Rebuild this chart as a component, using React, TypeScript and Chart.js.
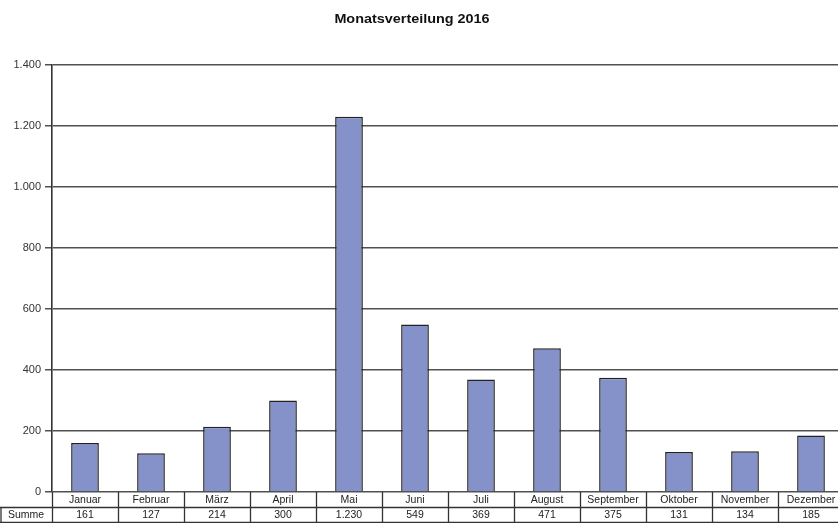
import React, { useEffect, useRef } from "react";
import { Chart, registerables } from "chart.js";

Chart.register(...registerables);

const TITLE = "Monatsverteilung 2016";
const MONTHS = ["Januar", "Februar", "März", "April", "Mai", "Juni", "Juli", "August", "September", "Oktober", "November", "Dezember"];
const VALUES = [161, 127, 214, 300, 1230, 549, 369, 471, 375, 131, 134, 185];
const ROW_LABEL = "Summe";
const Y_TICKS = [0, 200, 400, 600, 800, 1000, 1200, 1400];

const FONT = "'Liberation Sans', Arial, sans-serif";

const fmt = (v: number) => String(v).replace(/\B(?=(\d{3})+(?!\d))/g, ".");

const titlePlugin = {
  id: "stretchedTitle",
  afterDraw(chart: any) {
    const ctx = chart.ctx;
    ctx.save();
    ctx.fillStyle = "#111";
    ctx.font = `bold 12px ${FONT}`;
    ctx.textAlign = "center";
    ctx.textBaseline = "alphabetic";
    ctx.translate(412, 22.5);
    ctx.scale(1.2, 1);
    ctx.fillText(TITLE, 0, 0);
    ctx.restore();
  },
};

const tablePlugin = {
  id: "dataTable",
  afterDraw(chart: any) {
    const ctx = chart.ctx;
    const xs = chart.scales.x;
    const area = chart.chartArea;
    const n = MONTHS.length;
    const w = (area.right - area.left) / n;
    const top = area.bottom;
    const mid = top + 15;
    const bot = top + 30;
    ctx.save();
    ctx.strokeStyle = "#333";
    ctx.lineWidth = 1.3;
    ctx.beginPath();
    ctx.moveTo(0, mid + 0.5);
    ctx.lineTo(chart.width, mid + 0.5);
    ctx.moveTo(0, bot + 0.5);
    ctx.lineTo(chart.width, bot + 0.5);
    ctx.moveTo(1, mid);
    ctx.lineTo(1, bot + 1);
    for (let i = 0; i <= n; i++) {
      const x = Math.round(area.left + i * w) + 0.5;
      ctx.moveTo(x, top);
      ctx.lineTo(x, bot + 1);
    }
    ctx.stroke();
    ctx.fillStyle = "#222";
    ctx.font = `10.5px ${FONT}`;
    ctx.textAlign = "center";
    ctx.textBaseline = "middle";
    MONTHS.forEach((m, i) => {
      const cx = xs.getPixelForValue(i);
      ctx.fillText(m, cx, top + 8);
      ctx.fillText(fmt(VALUES[i]), cx, mid + 8);
    });
    ctx.fillText(ROW_LABEL, area.left / 2, mid + 8);
    ctx.restore();
  },
};

export default function App() {
  const ref = useRef<HTMLCanvasElement>(null);
  useEffect(() => {
    const chart = new Chart(ref.current!, {
      type: "bar",
      data: {
        labels: MONTHS,
        datasets: [
          {
            data: VALUES,
            backgroundColor: "#8591C9",
            borderColor: "#222",
            borderWidth: 1.5,
            barPercentage: 0.42,
            categoryPercentage: 1,
          },
        ],
      },
      options: {
        responsive: false,
        animation: false,
        layout: { padding: { top: 65, left: 0, right: 0, bottom: 0 } },
        plugins: {
          legend: { display: false },
          tooltip: { enabled: false },
          title: { display: false },
        },
        scales: {
          x: {
            ticks: { display: false },
            grid: { display: false, drawTicks: false },
            border: { display: false },
            afterFit(s: any) {
              s.height = 31;
            },
          },
          y: {
            min: 0,
            max: 1400,
            afterBuildTicks(s: any) {
              s.ticks = Y_TICKS.map((v) => ({ value: v }));
            },
            ticks: {
              color: "#333",
              font: { family: FONT, size: 11 },
              padding: 4,
              callback: (v: any) => fmt(Number(v)),
            },
            grid: { color: "#505050", lineWidth: 1.5, tickLength: 7 },
            border: { color: "#333", width: 1.6 },
            afterFit(s: any) {
              s.width = 52;
            },
          },
        },
      },
      plugins: [tablePlugin, titlePlugin],
    });
    return () => chart.destroy();
  }, []);
  return (
    <div style={{ position: "fixed", left: 0, top: 0, width: 838, height: 523, overflow: "hidden", background: "#fff" }}>
      <canvas ref={ref} width={844} height={523} style={{ display: "block" }} />
    </div>
  );
}
